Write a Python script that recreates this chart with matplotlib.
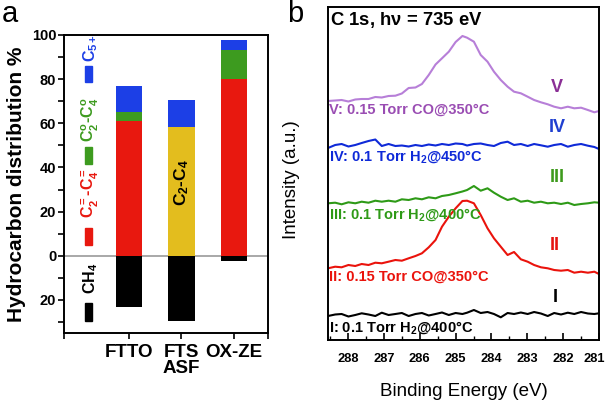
import matplotlib
matplotlib.use("Agg")
import matplotlib.pyplot as plt
from matplotlib.patches import Rectangle
from matplotlib.ticker import FixedLocator, FuncFormatter

plt.rcParams['font.family'] = ['Liberation Sans', 'DejaVu Sans']
plt.rcParams['mathtext.fontset'] = 'custom'
plt.rcParams['mathtext.rm'] = 'Liberation Sans:bold'
plt.rcParams['mathtext.it'] = 'Liberation Sans:bold'
plt.rcParams['mathtext.bf'] = 'Liberation Sans:bold'

# ---------------- Panel a data ----------------
catalysts = ["FTTO", "FTS\nASF", "OX-ZE"]
ch4 = [23, 29.5, 2.5]
c2c4_olefin = [61, 0, 80]
c2c4_paraffin = [4, 0, 13.3]
c2c4_asf = [0, 58.5, 0]
c5plus = [12, 12, 4.5]

# ---------------- Panel b data ----------------
be_ticks = [288, 287, 286, 285, 284, 283, 282, 281]
binding_energy = [288.56, 288.36, 288.18, 287.99, 287.80, 287.62, 287.43, 287.24, 287.06, 286.87,
                  286.68, 286.50, 286.31, 286.12, 285.94, 285.75, 285.56, 285.38, 285.19, 285.00,
                  284.81, 284.68, 284.49, 284.30, 284.11, 283.93, 283.74, 283.55, 283.37, 283.18,
                  282.99, 282.81, 282.62, 282.43, 282.25, 282.06, 281.87, 281.69, 281.50, 281.31,
                  281.13, 281.00]
spec_V = [239, 239.5, 240, 238.5, 240.5, 241, 241, 243, 242.5, 244, 244.3, 246.5, 252, 252.5, 256,
          265, 275.5, 281.7, 288.3, 298, 304, 302.3, 298.3, 285, 278.3, 268.3, 260, 253.3, 248.3,
          246.7, 243.3, 240, 237.7, 235.7, 233.3, 231.7, 233.3, 231.7, 232.3, 230, 227.7, 229]
spec_IV = [192, 195, 196, 193.5, 195, 197, 199, 200.5, 194, 196, 194, 194.5, 193.5, 195, 194, 195.5,
           194.5, 196, 195, 196.5, 196, 194.5, 196, 196.5, 195, 194, 197, 198.3, 195, 196, 194, 196,
           194.7, 193.3, 195, 196, 193.3, 195, 196, 194.3, 193, 191]
spec_III = [136.7, 137.3, 135.7, 137.7, 136.7, 138.3, 137.3, 139.3, 138.3, 139.3, 138.3, 140.7, 140,
            141.7, 140.7, 142.7, 141.7, 144, 145, 146.7, 148.5, 150, 154, 149.3, 151.7, 147.3, 143.3,
            140, 141.7, 138.3, 139.3, 137.3, 138.3, 136.7, 137.3, 136, 137.3, 135, 136, 136.7, 137.7,
            137.3]
spec_II = [71.7, 73.3, 72.7, 75, 74, 76, 75, 77.3, 76.7, 78.3, 80, 79.3, 81.7, 84, 86.7, 92.7, 100,
           113.3, 123.3, 131.7, 139, 139.3, 136.7, 125, 111.7, 101.7, 93.3, 85, 88, 80.7, 78.3, 75,
           72.7, 71.7, 70, 69.3, 70, 67.3, 68.3, 67.3, 68.3, 66]
spec_I = [24, 25.5, 26, 23.5, 25, 26.7, 25.5, 24, 27.3, 25, 26, 27, 24, 26, 27, 24.5, 26, 27.5, 25, 27,
          26, 27.3, 30, 27, 28, 26, 22.7, 27, 26, 27.5, 26, 28, 26.5, 24, 27, 25.5, 27.3, 26, 28,
          26.5, 26, 26.7]

BLUE = '#1c3fe6'
GREEN = '#3d9b1f'
RED = '#e8180f'
YELLOW = '#e3bd1e'

fig = plt.figure(figsize=(6.08, 4.01), dpi=100)

# ================= Panel a =================
axa = fig.add_axes([64/608, (401-333)/401, 204/608, 298/401])
x = [1, 2, 3]
w = 0.5
axa.bar(x, [-v for v in ch4], w, color='black', zorder=2)
axa.bar(x, c2c4_olefin, w, color=RED, zorder=2)
axa.bar(x, c2c4_asf, w, color=YELLOW, zorder=2)
b2 = [a + b for a, b in zip(c2c4_olefin, c2c4_asf)]
axa.bar(x, c2c4_paraffin, w, bottom=b2, color=GREEN, zorder=2)
b3 = [a + b for a, b in zip(b2, c2c4_paraffin)]
axa.bar(x, c5plus, w, bottom=b3, color=BLUE, zorder=2)
axa.axhline(0, color='#9a9a9a', lw=1.2, zorder=1)

axa.set_xlim(-0.24, 3.65)
axa.set_ylim(-35, 100)
axa.set_xticks(x)
axa.set_xticklabels(catalysts, fontsize=13.5, fontweight='bold', linespacing=0.95)
axa.xaxis.set_minor_locator(FixedLocator([-0.24, 3.65]))
axa.set_yticks([-20, 0, 20, 40, 60, 80, 100])
axa.yaxis.set_major_formatter(FuncFormatter(lambda v, p: f"{abs(int(v))}"))
axa.yaxis.set_minor_locator(FixedLocator([-30, -10, 10, 30, 50, 70, 90]))
for lab in axa.get_yticklabels():
    lab.set_fontweight('bold')
axa.tick_params(axis='y', which='both', direction='out', length=4, width=1.2, labelsize=10.5, pad=1.5)
axa.tick_params(axis='x', which='both', direction='out', length=4, width=1.2, pad=4)
for s in axa.spines.values():
    s.set_linewidth(1.4)
axa.set_ylabel("Hydrocarbon distribution %", fontsize=15, fontweight='bold', labelpad=4)

# legend squares and labels
leg = [(BLUE, 78.6, 7.3, r'C$_{5+}$', 94.0),
       (GREEN, 41.4, 7.7, r'C$_2^{o}$-C$_4^{o}$', 61.8),
       (RED, 5.0, 7.7, r'C$_2^{=}$-C$_4^{=}$', 28.6),
       ('black', -29.5, 8.1, r'CH$_4$', -10)]
for col, y0, h, txt, ty in leg:
    axa.add_patch(Rectangle((0.162, y0), 0.133, h, color=col, zorder=3))
    axa.text(0.26, ty, txt, rotation=90, color=col, fontsize=11.5, fontweight='bold',
             ha='center', va='center')
axa.text(2.0, 33, r'C$_2$-C$_4$', rotation=90, color='black', fontsize=12.5, fontweight='bold',
         ha='center', va='center', zorder=4)

fig.text(2/608, (401-22)/401, 'a', fontsize=21, ha='left', va='baseline')
fig.text(287/608, (401-22)/401, 'b', fontsize=21, ha='left', va='baseline')

# ================= Panel b =================
axb = fig.add_axes([328/608, (401-340)/401, 271/608, 333/401])
lw = 1.5
axb.plot(binding_energy, spec_V, color='#b77fd8', lw=lw)
axb.plot(binding_energy, spec_IV, color='#0f2ad8', lw=lw)
axb.plot(binding_energy, spec_III, color='#2e9a17', lw=lw)
axb.plot(binding_energy, spec_II, color='#ea130c', lw=lw)
axb.plot(binding_energy, spec_I, color='black', lw=lw)
axb.set_xlim(288.56, 281.0)
axb.set_ylim(0, 333)
axb.set_xticks(be_ticks)
axb.set_xticklabels([str(t) for t in be_ticks[:-1]] + [''])
axb.xaxis.set_minor_locator(FixedLocator([287.5, 286.5, 285.5, 284.5, 283.5, 282.5, 281.5, 288.5]))
axb.set_yticks([])
axb.tick_params(axis='x', which='major', direction='in', length=5, width=1.2, labelsize=9.3, pad=9)
axb.tick_params(axis='x', which='minor', direction='in', length=3, width=1.0)
for lab in axb.get_xticklabels():
    lab.set_fontweight('bold')
# last tick label nudged left so it stays inside the figure
axb.text(be_ticks[-1] + 0.12, -12.5/333, str(be_ticks[-1]), transform=axb.get_xaxis_transform(),
         fontsize=9.3, fontweight='bold', ha='center', va='top')
for s in axb.spines.values():
    s.set_linewidth(1.4)
axb.set_xlabel("Binding Energy (eV)", fontsize=13.5, labelpad=13)
fig.text(292/608, (401-180)/401, "Intensity (a.u.)", rotation=90, fontsize=13.5,
         ha='center', va='center')

def ax_pt(px, py):
    return ((px - 328) / 271, (340 - py) / 333)

axb.text(*ax_pt(330, 20), r"C 1s, h$\nu$ = 735 eV", transform=axb.transAxes,
         fontsize=13.3, fontweight='bold', ha='left', va='center')

romans = [("V", 557, 88, '#8a2f95'), ("IV", 557, 127, '#1f3fd0'), ("III", 557, 178, '#3d9a1c'),
          ("II", 555, 245, '#e5130f'), ("I", 555, 298, 'black')]
for t, px, py, c in romans:
    axb.text(*ax_pt(px, py), t, transform=axb.transAxes, fontsize=13, fontweight='bold',
             color=c, ha='center', va='center')

conds = [("V: 0.15 Torr CO@350°C", 110, '#9a4db3'),
         ("IV: 0.1 Torr H$_2$@450°C", 157, '#0f2ad8'),
         ("III: 0.1 Torr H$_2$@400°C", 215, '#2e9a17'),
         ("II: 0.15 Torr CO@350°C", 277, '#ea130c'),
         ("I: 0.1 Torr H$_2$@400°C", 328, 'black')]
for t, py, c in conds:
    axb.text(*ax_pt(329, py), t, transform=axb.transAxes, fontsize=10.5, fontweight='bold',
             color=c, ha='left', va='center')

fig.savefig("out.png", dpi=100)
